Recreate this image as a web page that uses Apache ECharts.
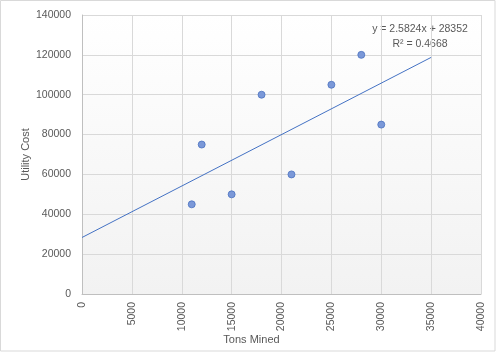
<!DOCTYPE html>
<html>
<head>
<meta charset="utf-8">
<script src="https://cdn.jsdelivr.net/npm/echarts@6/dist/echarts.min.js"></script>
<style>html,body{margin:0;padding:0;background:#fff}#c{width:496px;height:352px}</style>
</head>
<body>
<div id="c"></div>
<script>
// Data
const tonsMined = [11000, 12000, 15000, 18000, 21000, 25000, 28000, 30000];
const utilityCost = [45000, 75000, 50000, 100000, 60000, 105000, 120000, 85000];
const trendSlope = 2.5824;
const trendIntercept = 28352;
const trendRange = [0, 35000];
const rSquared = 0.4668;
const xTicks = [0, 5000, 10000, 15000, 20000, 25000, 30000, 35000, 40000];
const yTicks = [0, 20000, 40000, 60000, 80000, 100000, 120000, 140000];

const FONT = '"Liberation Sans", Arial, sans-serif';
const TXT = '#595959';

const points = tonsMined.map((x, i) => [x, utilityCost[i]]);
const trend = trendRange.map(x => [x, trendSlope * x + trendIntercept]);

const chart = echarts.init(document.getElementById('c'), null, {renderer: 'canvas'});
chart.setOption({
  animation: false,
  backgroundColor: '#ffffff',
  textStyle: {fontFamily: FONT},
  grid: {
    left: 82, right: 15, top: 15, bottom: 58, show: true, borderWidth: 0,
    backgroundColor: {type: 'linear', x: 0, y: 0, x2: 0, y2: 1,
      colorStops: [{offset: 0, color: '#ffffff'}, {offset: 1, color: '#f2f2f2'}]}
  },
  xAxis: {
    type: 'value', min: xTicks[0], max: xTicks[xTicks.length - 1], interval: 5000,
    name: 'Tons Mined', nameLocation: 'middle', nameGap: 40, nameMoveOverlap: false,
    nameTextStyle: {color: TXT, fontSize: 11, fontFamily: FONT, padding: [0, 60, 0, 0]},
    axisLine: {show: true, lineStyle: {color: '#bfbfbf'}},
    axisTick: {show: false},
    axisLabel: {rotate: 90, color: TXT, fontSize: 10.5, fontFamily: FONT, margin: 8,
      showMinLabel: true, showMaxLabel: true, formatter: v => String(v)},
    splitLine: {show: true, lineStyle: {color: '#d9d9d9'}}
  },
  yAxis: {
    type: 'value', min: yTicks[0], max: yTicks[yTicks.length - 1], interval: 20000,
    name: 'Utility Cost', nameLocation: 'middle', nameGap: 51, nameMoveOverlap: false,
    nameTextStyle: {color: TXT, fontSize: 11, fontFamily: FONT},
    axisLine: {show: true, lineStyle: {color: '#bfbfbf'}},
    axisTick: {show: false},
    axisLabel: {color: TXT, fontSize: 10.5, fontFamily: FONT, margin: 11, formatter: v => String(v)},
    splitLine: {show: true, lineStyle: {color: '#d9d9d9'}}
  },
  series: [
    {
      type: 'line', data: trend, showSymbol: false, symbol: 'none',
      lineStyle: {color: '#4472c4', width: 1}, silent: true, z: 2
    },
    {
      type: 'scatter', data: points, symbol: 'circle', symbolSize: 7,
      itemStyle: {color: '#7b98d8', borderColor: '#4a72c0', borderWidth: 0.8, opacity: 1}, z: 3
    }
  ],
  graphic: [
    {type: 'rect', shape: {x: 0.5, y: 0.5, width: 494.5, height: 350.5},
      style: {fill: 'none', stroke: '#d9d9d9', lineWidth: 1}, silent: true, z: 100},
    {type: 'text', x: 420, y: 22,
      style: {text: 'y = ' + trendSlope + 'x + ' + trendIntercept + '\nR\u00b2 = ' + rSquared,
        fill: TXT, font: '10.5px ' + FONT, align: 'center', verticalAlign: 'top', lineHeight: 15}}
  ]
});
</script>
</body>
</html>
